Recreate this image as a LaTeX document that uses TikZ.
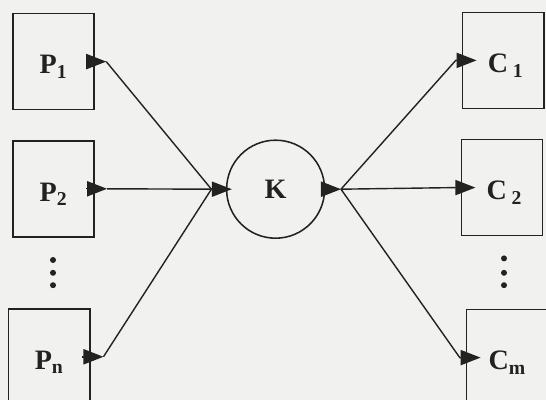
\documentclass[tikz,border=0pt]{standalone}
\usepackage{fontspec}
\setmainfont{Liberation Serif}
\usepackage{tikz}
\usetikzlibrary{arrows.meta, positioning, calc}
\definecolor{inkgray}{RGB}{34,34,34}
\definecolor{paper}{RGB}{241,241,239}

\begin{document}
\begin{tikzpicture}[
  font=\fontsize{20}{24}\selectfont\bfseries,
  unit/.style={rectangle, draw=inkgray, line width=1.2pt, minimum width=2.03cm, minimum height=2.4cm, align=center, text=inkgray, inner sep=0pt, text height=0.62cm, text depth=0pt},
  core/.style={circle, draw=inkgray, line width=1.1pt, minimum size=2.45cm, text=inkgray, inner sep=0pt},
  arr/.style={-{Triangle[length=0.5cm, width=0.38cm]}, line width=1pt, inkgray},
  wire/.style={line width=1pt, inkgray},
  dot/.style={fill=inkgray}
]
  % Frame
  \path[use as bounding box, clip] (0,0) rectangle (13.65,-10);
  \fill[paper] (0,0) rectangle (13.65,-10);
  % Producers
  \node[unit] (p1) at (1.34,-1.54) {P\textsubscript{1}};
  \node[unit] (p2) at (1.34,-4.72) {P\textsubscript{2}};
  \node[unit] (pn) at (1.23,-8.92) {P\textsubscript{n}};
  % Center
  \node[core] (k) at (6.89,-4.73) {K};
  % Consumers
  \node[unit] (c1) at (12.58,-1.51) {\,C\,\textsubscript{1}};
  \node[unit] (c2) at (12.55,-4.69) {\,C\,\textsubscript{2}};
  \node[unit] (cm) at (12.68,-8.94) {C\textsubscript{m}};
  % Dots
  \fill[dot] (1.325,-6.50) circle (0.075);
  \fill[dot] (1.325,-6.82) circle (0.075);
  \fill[dot] (1.325,-7.13) circle (0.075);
  \fill[dot] (12.6,-6.46) circle (0.075);
  \fill[dot] (12.6,-6.82) circle (0.075);
  \fill[dot] (12.6,-7.13) circle (0.075);
  % Junctions
  \coordinate (inK) at ($(k.west)+(-0.36,0)$);
  \coordinate (outK) at ($(k.east)+(0.39,0)$);
  \coordinate (p1o) at ($(p1.east)+(0.28,0)$);
  \coordinate (p2o) at ($(p2.east)+(0.3,0)$);
  \coordinate (pno) at ($(pn.east)+(0.32,0)$);
  \coordinate (c1i) at ($(c1.west)+(-0.15,0)$);
  \coordinate (c2i) at ($(c2.west)+(-0.15,0)$);
  \coordinate (cmi) at ($(cm.west)+(-0.15,0)$);
  % Ports on the producers
  \draw[arr] ($(p1.east)+(-0.22,0)$) -- (p1o);
  \draw[arr] ($(p2.east)+(-0.22,0)$) -- (p2o);
  \draw[arr] ($(pn.east)+(-0.22,0)$) -- (pno);
  % Into K
  \draw[wire] (p1o) -- (inK);
  \draw[wire] (p2o) -- (inK);
  \draw[wire] (pno) -- (inK);
  \draw[arr] (inK) -- ($(k.west)+(0.15,0)$);
  % Out of K
  \draw[arr] ($(k.east)+(-0.1,0)$) -- (outK);
  \draw[arr] (outK) -- (c1i) -- ($(c1.west)+(0.37,0)$);
  \draw[arr] (outK) -- (c2i) -- ($(c2.west)+(0.37,0)$);
  \draw[arr] (outK) -- (cmi) -- ($(cm.west)+(0.37,0)$);
\end{tikzpicture}
\end{document}
